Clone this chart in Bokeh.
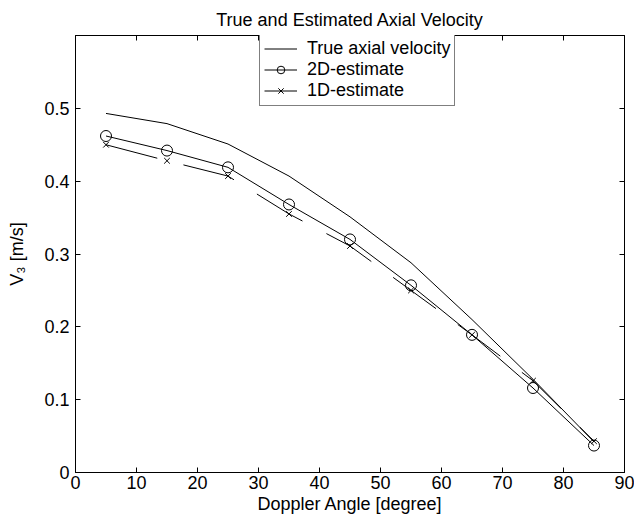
from bokeh.plotting import figure
from bokeh.models import LinearAxis, FixedTicker, Legend, LegendItem, Title
from bokeh.embed import file_html
from bokeh.resources import INLINE

# ---- data ----
angles = [5, 15, 25, 35, 45, 55, 65, 75, 85]
true_v = [0.493, 0.479, 0.451, 0.407, 0.351, 0.288, 0.210, 0.128, 0.042]
est_2d = [0.462, 0.442, 0.419, 0.368, 0.320, 0.257, 0.189, 0.116, 0.037]
est_1d = [0.450, 0.428, 0.407, 0.355, 0.311, 0.250, 0.189, 0.126, 0.043]

x_ticks = [0, 10, 20, 30, 40, 50, 60, 70, 80, 90]
y_ticks = [0, 0.1, 0.2, 0.3, 0.4, 0.5]
y_tick_labels = ["0", "0.1", "0.2", "0.3", "0.4", "0.5"]

FONT = "Liberation Sans"
FS = "18px"

p = figure(width=634, height=522, x_range=(0, 90), y_range=(0, 0.6),
           output_backend="svg", toolbar_location=None,
           min_border_left=75, min_border_right=10,
           min_border_top=35, min_border_bottom=50)
p.title = Title(text="True and Estimated Axial Velocity", align="center",
                text_font=FONT, text_font_size=FS, text_font_style="normal",
                text_color="black", standoff=12)
p.xgrid.visible = False
p.ygrid.visible = False
p.outline_line_color = "black"
p.outline_line_width = 1
p.background_fill_color = "white"
p.border_fill_color = "white"

def style_axis(ax, show_labels):
    ax.axis_line_color = "black"
    ax.major_tick_in = 5
    ax.major_tick_out = 0
    ax.minor_tick_line_color = None
    ax.major_tick_line_color = "black"
    ax.major_label_text_font = FONT
    if show_labels:
        ax.major_label_text_font_size = FS
        ax.major_label_text_color = "black"
    else:
        ax.major_label_text_font_size = "1px"
        ax.major_label_text_color = None
        ax.major_label_standoff = 0
    ax.axis_label_text_font = FONT
    ax.axis_label_text_font_size = FS
    ax.axis_label_text_font_style = "normal"
    ax.axis_label_text_color = "black"

xa = p.xaxis[0]
ya = p.yaxis[0]
xa.ticker = FixedTicker(ticks=x_ticks)
ya.ticker = FixedTicker(ticks=y_ticks)
ya.major_label_overrides = {t: s for t, s in zip(y_ticks, y_tick_labels)}
style_axis(xa, True)
style_axis(ya, True)
xa.axis_label = "Doppler Angle [degree]"
ya.axis_label = "V\u2083 [m/s]"
xa.major_label_standoff = 3
xa.axis_label_standoff = 2
ya.major_label_standoff = 6
ya.axis_label_standoff = 14

top = LinearAxis(ticker=FixedTicker(ticks=x_ticks))
style_axis(top, False)
right = LinearAxis(ticker=FixedTicker(ticks=y_ticks))
style_axis(right, False)
p.add_layout(top, "above")
p.add_layout(right, "right")

r_true = p.line(angles, true_v, line_color="black", line_width=1)
r_2d = p.line(angles, est_2d, line_color="black", line_width=1)
r_2d_m = p.scatter(angles, est_2d, marker="circle", size=11,
                   fill_color=None, line_color="black", line_width=1)
r_1d = p.line(angles, est_1d, line_color="black", line_width=1,
              line_dash="53 27")
r_1d_m = p.scatter(angles, est_1d, marker="x", size=8,
                   line_color="black", line_width=1)

legend = Legend(items=[
    LegendItem(label="True axial velocity", renderers=[r_true]),
    LegendItem(label="2D-estimate", renderers=[r_2d, r_2d_m]),
    LegendItem(label="1D-estimate", renderers=[r_1d, r_1d_m]),
], location=(184, 366))
legend.label_text_font = FONT
legend.label_text_font_size = FS
legend.label_text_color = "black"
legend.label_height = 19
legend.glyph_height = 19
legend.glyph_width = 33
legend.label_standoff = 10
legend.spacing = -2
legend.padding = 4
legend.margin = 0
legend.border_line_color = "black"
legend.border_line_width = 1
legend.background_fill_color = "white"
legend.background_fill_alpha = 1
p.add_layout(legend, "center")

open("out.html", "w").write(file_html(p, INLINE))
